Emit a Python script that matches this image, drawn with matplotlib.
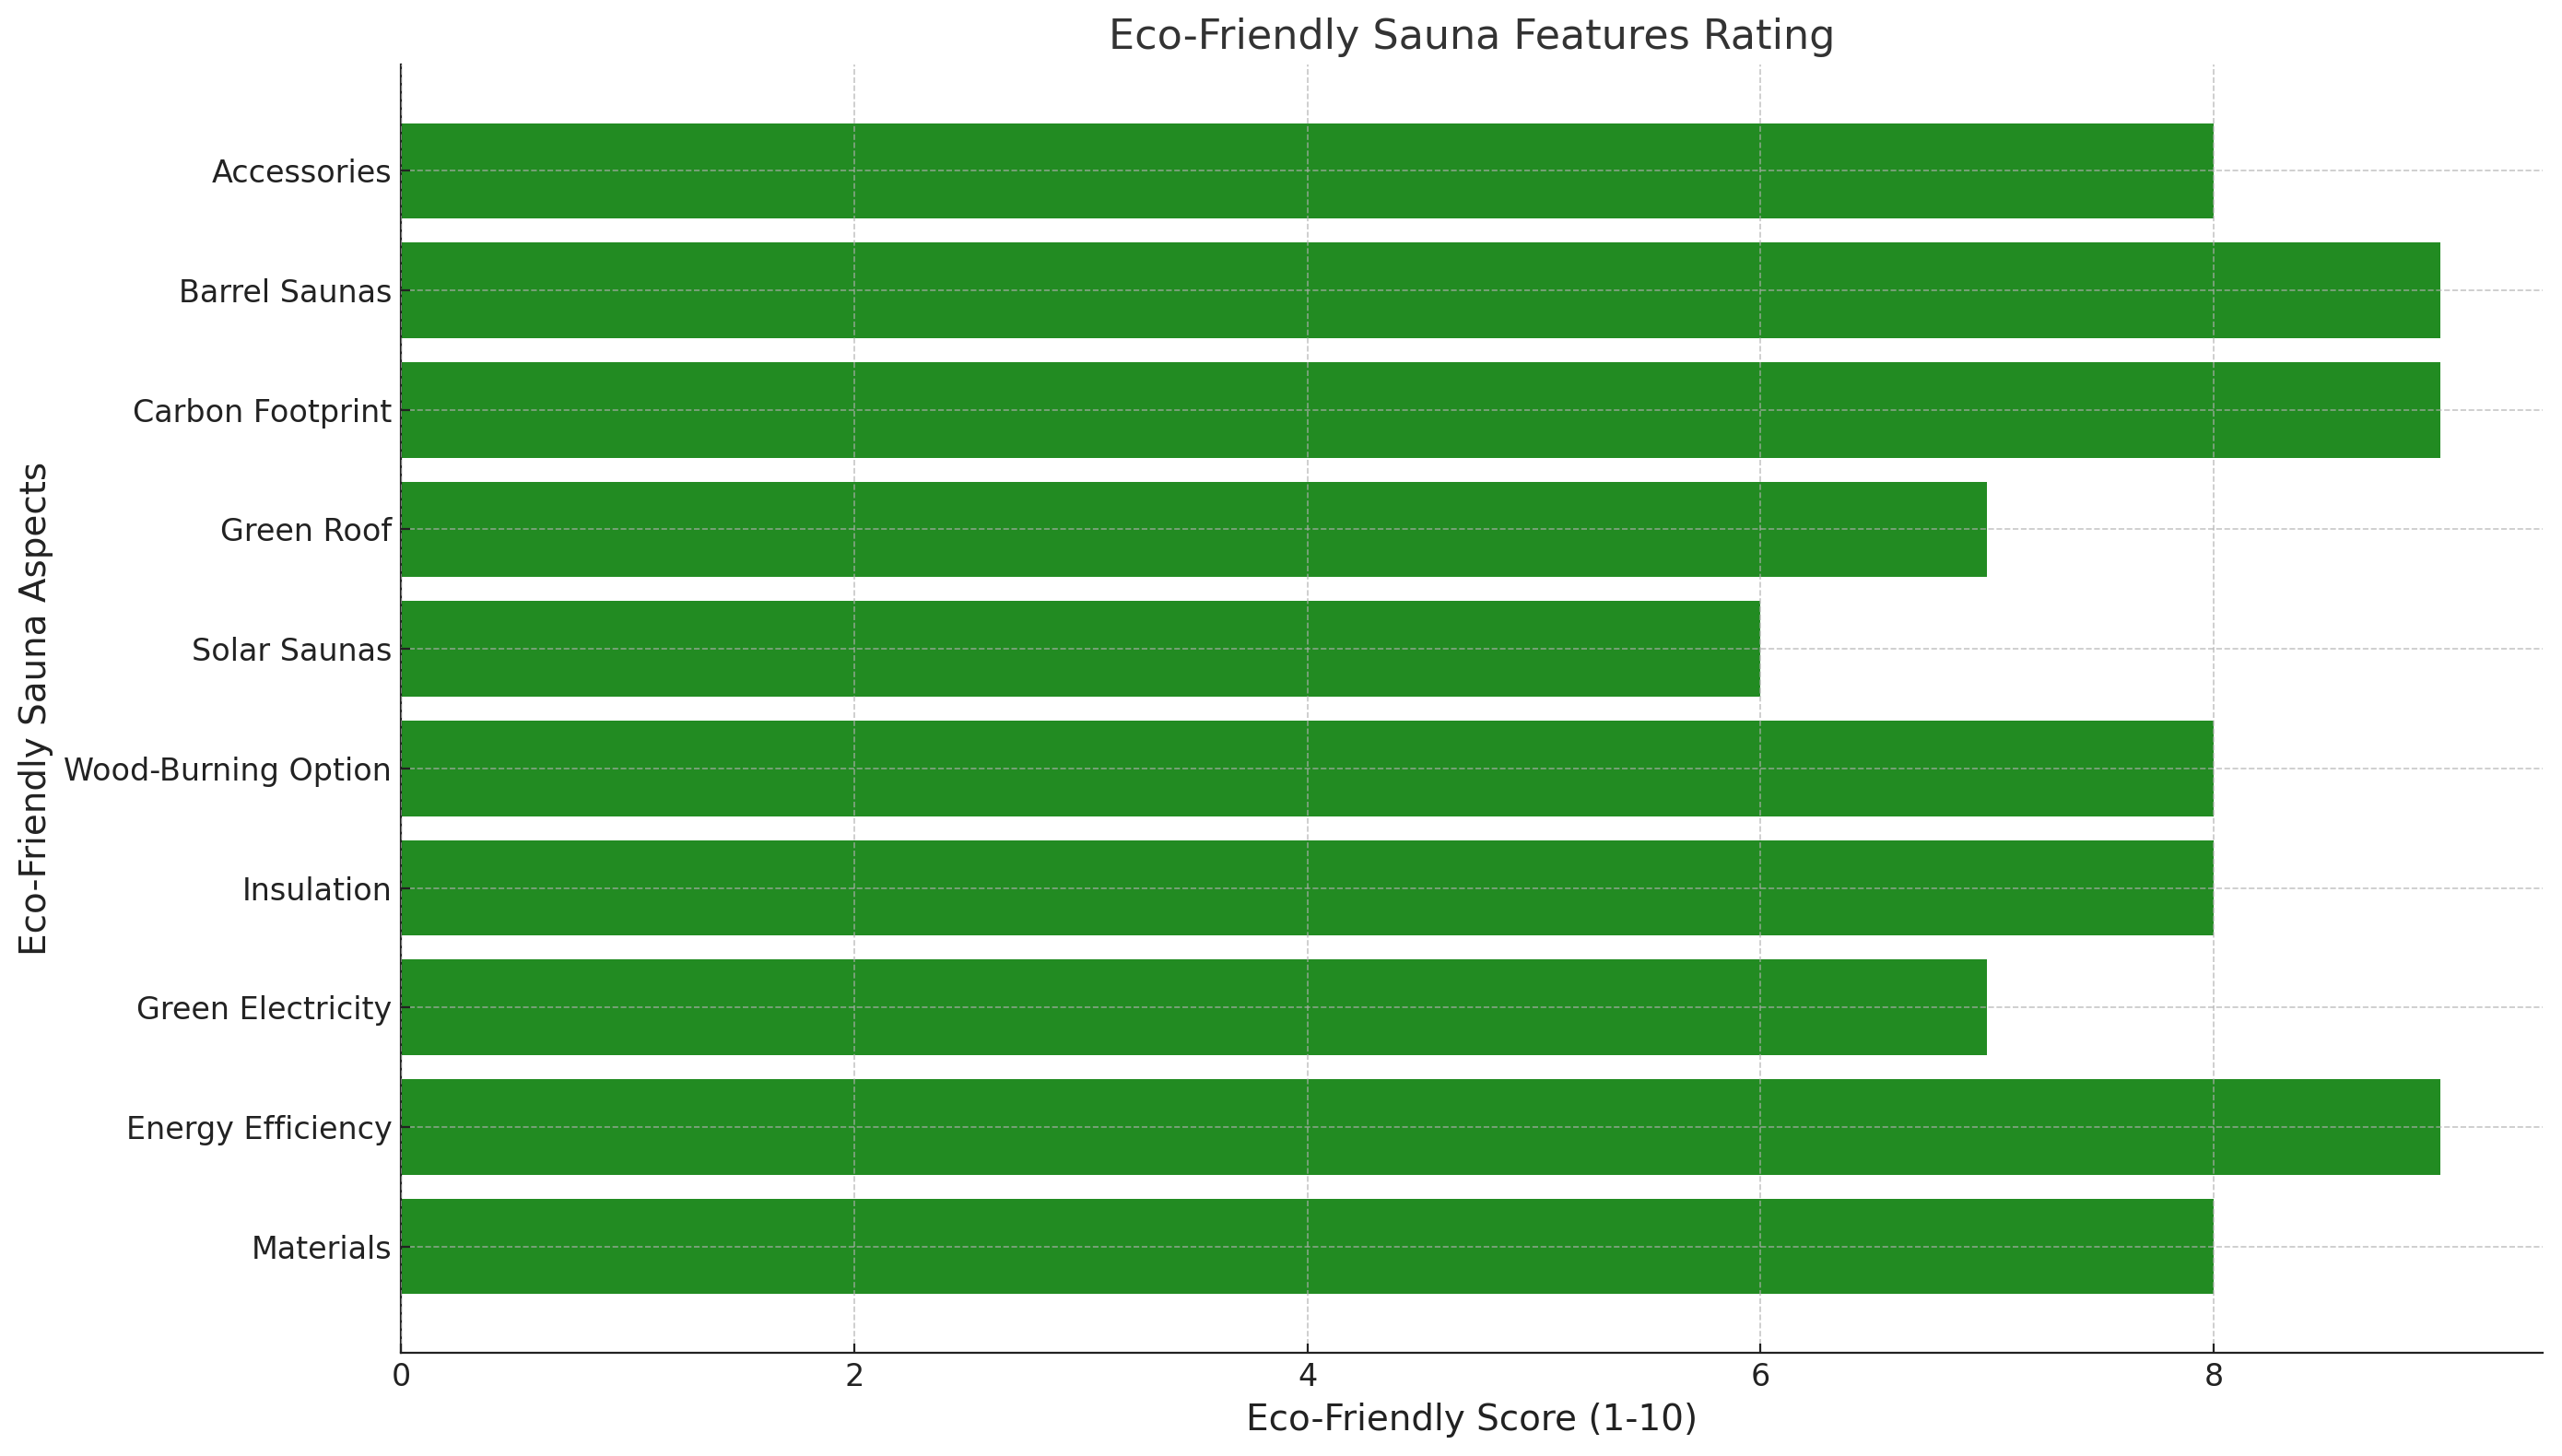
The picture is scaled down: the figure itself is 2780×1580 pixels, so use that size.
import matplotlib
matplotlib.use("Agg")
import matplotlib.pyplot as plt

categories = ["Materials", "Energy Efficiency", "Green Electricity", "Insulation",
              "Wood-Burning Option", "Solar Saunas", "Green Roof", "Carbon Footprint",
              "Barrel Saunas", "Accessories"]
scores = [8, 9, 7, 8, 8, 6, 7, 9, 9, 8]

fig, ax = plt.subplots(figsize=(13.9, 7.9), dpi=200)
fig.subplots_adjust(left=0.1565, right=0.9924, bottom=0.0709, top=0.9557)
ax.barh(categories, scores, color="#228B22")
ax.set_title("Eco-Friendly Sauna Features Rating", fontsize=16, color="#333333")
ax.set_xlabel("Eco-Friendly Score (1-10)", fontsize=14, color="#222222")
ax.set_ylabel("Eco-Friendly Sauna Aspects", fontsize=14, color="#222222")
ax.tick_params(labelsize=12, labelcolor="#222222", color="#222222", direction="in")
ax.grid(True, linestyle="--", alpha=0.7, linewidth=0.6)
ax.set_axisbelow(False)
ax.spines["top"].set_visible(False)
ax.spines["right"].set_visible(False)
ax.spines["left"].set_color("#222222")
ax.spines["bottom"].set_color("#222222")
fig.savefig("out.png", dpi=200)
